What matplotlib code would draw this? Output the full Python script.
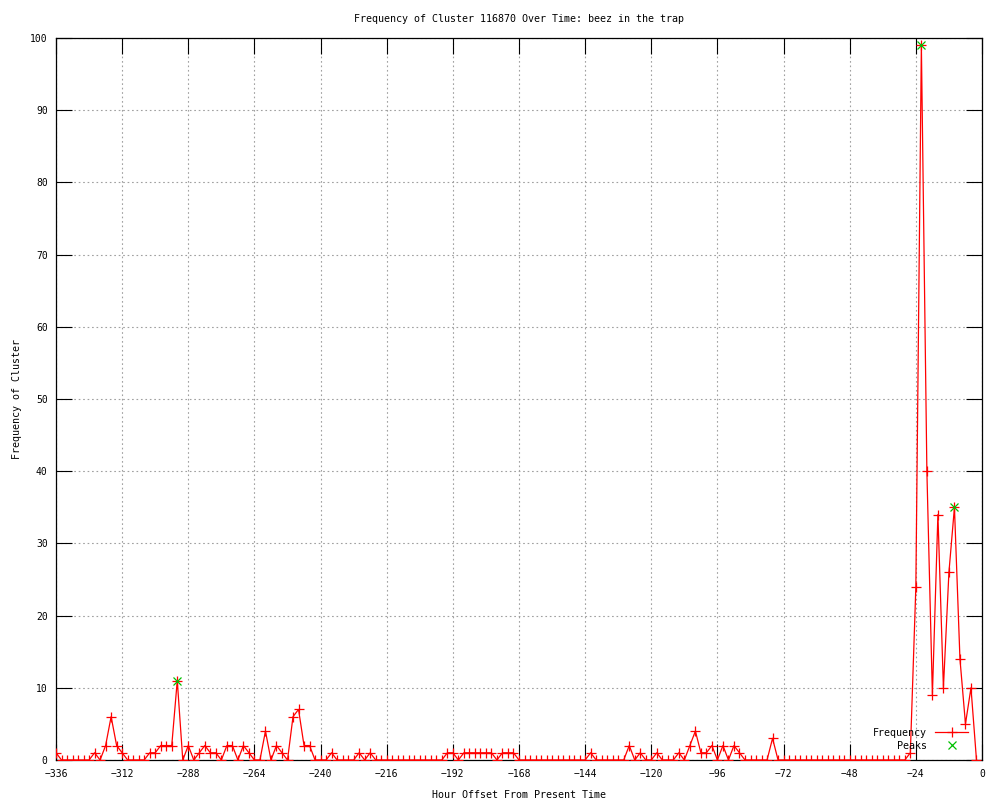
import matplotlib
matplotlib.use("Agg")
import matplotlib.pyplot as plt

# ---- data ----
hours = list(range(-336, 0, 2))
frequency = [
    1, 0, 0, 0, 0, 0, 0, 1, 0, 2, 6, 2, 1, 0, 0, 0,      # -336 .. -306
    0, 1, 1, 2, 2, 2, 11, 0, 2, 0, 1, 2, 1, 1, 0, 2,     # -304 .. -274
    2, 0, 2, 1, 0, 0, 4, 0, 2, 1, 0, 6, 7, 2, 2, 0,      # -272 .. -242
    0, 0, 1, 0, 0, 0, 0, 1, 0, 1, 0, 0, 0, 0, 0, 0,      # -240 .. -210
    0, 0, 0, 0, 0, 0, 0, 1, 1, 0, 1, 1, 1, 1, 1, 1,      # -208 .. -178
    0, 1, 1, 1, 0, 0, 0, 0, 0, 0, 0, 0, 0, 0, 0, 0,      # -176 .. -146
    0, 1, 0, 0, 0, 0, 0, 0, 2, 0, 1, 0, 0, 1, 0, 0,      # -144 .. -114
    0, 1, 0, 2, 4, 1, 1, 2, 0, 2, 0, 2, 1, 0, 0, 0,      # -112 .. -82
    0, 0, 3, 0, 0, 0, 0, 0, 0, 0, 0, 0, 0, 0, 0, 0,      # -80 .. -50
    0, 0, 0, 0, 0, 0, 0, 0, 0, 0, 0, 1, 24, 99, 40, 9,   # -48 .. -18
    34, 10, 26, 35, 14, 5, 10, 0,                        # -16 .. -2
]
peak_hours = [-292, -22, -10]
peak_values = [11, 99, 35]
x_ticks = [-336, -312, -288, -264, -240, -216, -192, -168, -144, -120, -96, -72, -48, -24, 0]
y_ticks = [0, 10, 20, 30, 40, 50, 60, 70, 80, 90, 100]

title = "Frequency of Cluster 116870 Over Time: beez in the trap"
xlabel = "Hour Offset From Present Time"
ylabel = "Frequency of Cluster"

# ---- plot ----
plt.rcParams['font.family'] = ['DejaVu Sans Mono']
plt.rcParams['font.size'] = 7

fig = plt.figure(figsize=(10, 8), dpi=100)
ax = fig.add_axes([0.056, 0.05, 0.926, 0.9025])

ax.plot(hours, frequency, color='red', linewidth=0.9, marker='+',
        markersize=7, markeredgewidth=0.9, label='Frequency', zorder=3)
ax.plot(peak_hours, peak_values, linestyle='none', color='#00c000', marker='x',
        markersize=6, markeredgewidth=0.9, label='Peaks', zorder=4)

ax.set_xlim(-336, 0)
ax.set_ylim(0, 100)
ax.set_xticks(x_ticks)
ax.set_yticks(y_ticks)
ax.tick_params(axis='both', direction='in', length=11.5, width=0.8,
               top=True, right=True, labelsize=7, color='black')
ax.tick_params(axis='x', pad=6.5)
ax.tick_params(axis='y', pad=6)
ax.grid(True, color='#a0a0a0', linestyle=(0, (1.5, 2.5)), linewidth=0.8, zorder=0)
ax.set_axisbelow(True)
for s in ax.spines.values():
    s.set_linewidth(0.9)
    s.set_color('black')

ax.set_title(title, fontsize=7.2, pad=11.5)
ax.set_xlabel(xlabel, fontsize=7.2, labelpad=8)
ax.set_ylabel(ylabel, fontsize=7.2, labelpad=6)

ax.legend(loc='lower right', frameon=False, markerfirst=False, fontsize=7.2,
          handlelength=3.3, handletextpad=0.8, labelspacing=0.3,
          borderaxespad=0.5, bbox_to_anchor=(0.995, 0.0005))

fig.savefig("out.png", dpi=100, facecolor='white')
